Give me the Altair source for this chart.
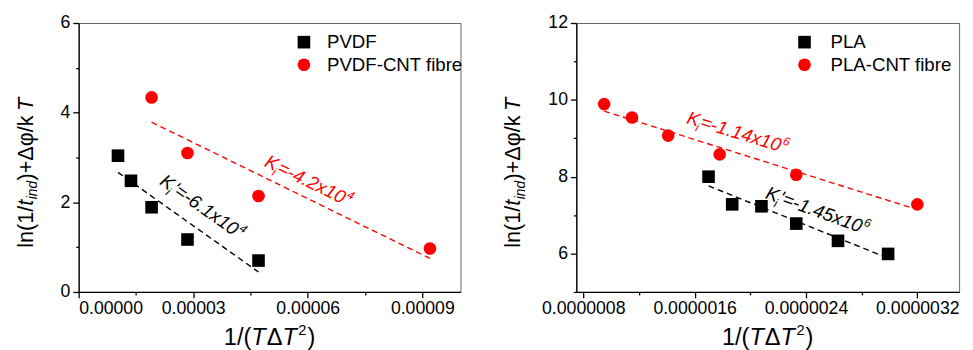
import altair as alt
import pandas as pd

FONT = "Liberation Sans"
RED = "#ff0000"
BLACK = "#000000"

# ---------------- left panel (PVDF) ----------------
left_series = ["PVDF", "PVDF-CNT fibre"]
pvdf_x = [1.03e-5, 1.37e-5, 1.91e-5, 2.85e-5, 4.71e-5]
pvdf_y = [3.04, 2.48, 1.89, 1.17, 0.70]
pvdf_cnt_x = [1.91e-5, 2.85e-5, 4.71e-5, 9.20e-5]
pvdf_cnt_y = [4.34, 3.10, 2.14, 0.97]
left_x_ticks = [0, 1.5e-5, 3e-5, 4.5e-5, 6e-5, 7.5e-5, 9e-5]
left_y_ticks = [0, 1, 2, 3, 4, 5, 6]
left_x_domain = [0, 1.0e-4]
left_y_domain = [0, 6]
# slope annotations: (base, subscript, body, superscript)
left_k_text = [("K", "i", "'=-6.1x10", "4"), ("K", "i", "=-4.2x10", "4")]
left_k_x = [3.25e-5, 6.03e-5]
left_k_y = [1.90, 2.48]
left_k_angle = [35, 26]
left_k_color = [BLACK, RED]

# ---------------- right panel (PLA) ----------------
right_series = ["PLA", "PLA-CNT fibre"]
pla_x = [1.70e-6, 1.87e-6, 2.08e-6, 2.33e-6, 2.63e-6, 2.99e-6]
pla_y = [8.00, 7.28, 7.23, 6.78, 6.33, 5.99]
pla_cnt_x = [0.95e-6, 1.15e-6, 1.41e-6, 1.78e-6, 2.33e-6, 3.20e-6]
pla_cnt_y = [9.89, 9.54, 9.07, 8.58, 8.05, 7.28]
right_x_ticks = [8e-7, 1.2e-6, 1.6e-6, 2.0e-6, 2.4e-6, 2.8e-6, 3.2e-6]
right_y_ticks = [5, 6, 7, 8, 9, 10, 11, 12]
right_x_domain = [7.5e-7, 3.5e-6]
right_y_domain = [5, 12]
right_k_text = [("K", "i", "=-1.14x10", "6"), ("K", "i", "'=-1.45x10", "6")]
right_k_x = [1.91e-6, 2.485e-6]
right_k_y = [9.155, 7.117]
right_k_angle = [17, 20]
right_k_color = [RED, BLACK]

# Arial / Liberation Sans advance widths (em)
W = {"0": .556, "1": .556, "2": .556, "3": .556, "4": .556, "5": .556, "6": .556,
     "7": .556, "8": .556, "9": .556, ".": .278, "x": .5, "=": .584, "-": .333,
     "'": .191, "K": .667, "i": .222, "n": .556, "d": .556, "l": .222, "(": .333,
     ")": .333, "/": .278, "t": .278, "+": .584, "Δ": .668, "φ": .72, "k": .5,
     " ": .278, "T": .611}


def tw(s, size):
    return sum(W.get(c, .556) for c in s) * size


def rich(data, xenc, yenc, pieces, angle, color, center=True, vshift=0.0):
    """pieces: (text, size, style, dy, kern)"""
    offs, cur = [], 0.0
    for text, size, style, dy, kern in pieces:
        cur += kern
        offs.append(cur)
        cur += tw(text, size)
    start = -cur / 2 if center else 0.0
    layers = []
    for (text, size, style, dy, kern), off in zip(pieces, offs):
        layers.append(
            alt.Chart(data).mark_text(
                text=text, font=FONT, fontSize=size, fontStyle=style, color=color,
                angle=angle, align="left", baseline="alphabetic",
                dx=start + off, dy=dy + vshift,
            ).encode(x=xenc, y=yenc)
        )
    return layers


def panel(series, sx, sy, cx, cy, xdom, ydom, xticks, yticks, xfmt, xstep,
          ktexts, kx, ky, kang, kcol, w, h, legx, legy, laboff, ytitle_x):
    df = pd.DataFrame({
        "x": list(sx) + list(cx),
        "y": list(sy) + list(cy),
        "series": [series[0]] * len(sx) + [series[1]] * len(cx),
    })
    xmajor = f"round(datum.value/{xstep}) % 2 == 0"
    ymajor = "round(datum.value) % 2 == 0"
    xaxis = alt.Axis(values=xticks, format=xfmt, title=None, grid=False,
                     labelExpr=f"{xmajor} ? datum.label : ''",
                     tickSize={"condition": {"test": xmajor, "value": 6}, "value": 3},
                     labelPadding=2)
    yaxis = alt.Axis(values=yticks, format="d", title=None, grid=False,
                     labelExpr=f"{ymajor} ? datum.label : ''",
                     tickSize={"condition": {"test": ymajor, "value": 6}, "value": 3},
                     labelPadding=3)
    X = alt.X("x:Q", scale=alt.Scale(domain=xdom, nice=False, zero=False), axis=xaxis)
    Y = alt.Y("y:Q", scale=alt.Scale(domain=ydom, nice=False, zero=False), axis=yaxis)
    leg = alt.Legend(title=None, orient="none", legendX=legx, legendY=legy,
                     labelFont=FONT, labelFontSize=19, labelColor="black",
                     symbolSize=165, labelOffset=laboff, rowPadding=3, padding=0)
    layers = []
    for s, col in zip(series, [BLACK, RED]):
        layers.append(
            alt.Chart(df).transform_filter(alt.datum.series == s).transform_regression(
                "x", "y"
            ).mark_line(strokeDash=[6, 4], strokeWidth=1.4, color=col).encode(x=X, y=Y)
        )
    pts = alt.Chart(df).mark_point(filled=True, size=165, opacity=1).encode(
        x=X, y=Y,
        color=alt.Color("series:N", scale=alt.Scale(domain=series, range=[BLACK, RED]), legend=leg),
        shape=alt.Shape("series:N", scale=alt.Scale(domain=series, range=["square", "circle"]), legend=leg),
    )
    layers.append(pts)
    # slope annotations
    for (base, sub, body, sup), ax, ay, ang, col in zip(ktexts, kx, ky, kang, kcol):
        adf = pd.DataFrame({"x": [ax], "y": [ay]})
        pieces = [(base, 19, "italic", 0, 0), (sub, 12, "italic", 5, -1.5),
                  (body, 19, "italic", 0, 0.5), (sup, 12, "italic", -8, 1)]
        layers += rich(adf, X, Y, pieces, ang, col, center=True, vshift=6.5)
    one = pd.DataFrame({"a": [0]})
    # y title
    ypieces = [("ln(1/", 22, "normal", 0, 0), ("t", 22, "italic", 0, 0),
               ("ind", 14, "italic", 5, 0.5), (")+Δφ/k", 22, "normal", 0, 0.5),
               ("T", 22, "italic", 0, 3)]
    layers += rich(one, alt.value(ytitle_x), alt.value(229), ypieces, 270, BLACK, center=False)
    # x title
    xpieces = [("1/(", 24, "normal", 0, 0), ("T", 24, "italic", 0, 0),
               ("Δ", 24, "normal", 0, 1), ("T", 24, "italic", 0, 0),
               ("2", 15, "normal", -10, 1.5), (")", 24, "normal", 0, 1)]
    layers += rich(one, alt.value(w / 2), alt.value(h + 54), xpieces, 0, BLACK, center=True)
    return alt.layer(*layers).properties(width=w, height=h)


left = panel(left_series, pvdf_x, pvdf_y, pvdf_cnt_x, pvdf_cnt_y, left_x_domain, left_y_domain,
             left_x_ticks, left_y_ticks, ".5f", 1.5e-5, left_k_text, left_k_x, left_k_y,
             left_k_angle, left_k_color, 389, 274, 220, 10, 14, -47)
right = panel(right_series, pla_x, pla_y, pla_cnt_x, pla_cnt_y, right_x_domain, right_y_domain,
              right_x_ticks, right_y_ticks, ".7f", 4e-7, right_k_text, right_k_x, right_k_y,
              right_k_angle, right_k_color, 390, 274, 223, 10, 17, -57)

chart = alt.hconcat(left, right, spacing=38).resolve_scale(
    color="independent", shape="independent",
    x="independent", y="independent",
).resolve_legend(color="independent", shape="independent").properties(
    padding={"left": 6, "top": 2, "right": 5, "bottom": 5}
).configure_axis(
    labelFont=FONT, labelFontSize=18, labelColor="black", domainColor="black",
    tickColor="black", domainWidth=1.3, tickWidth=1.3,
).configure_view(stroke="#666", strokeWidth=1)

chart.save("out.html", embed_options={"renderer": "svg", "actions": False})
